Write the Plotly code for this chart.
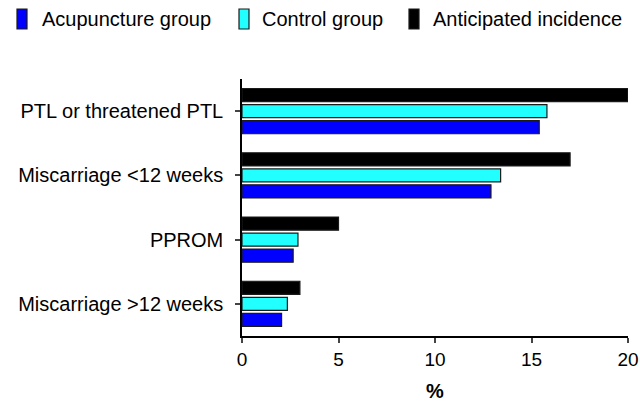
import plotly.graph_objects as go

categories = ["PTL or threatened PTL", "Miscarriage <12 weeks", "PPROM", "Miscarriage >12 weeks"]
acupuncture = [15.4, 12.9, 2.65, 2.05]
control = [15.8, 13.4, 2.9, 2.35]
anticipated = [20.0, 17.0, 5.0, 3.0]
series_names = ["Acupuncture group", "Control group", "Anticipated incidence"]
series_colors = ["#0000ff", "#22ffff", "#000000"]
x_ticks = [0, 5, 10, 15, 20]

font = "Liberation Sans, Arial, sans-serif"
line = dict(color="#1a1a1a", width=1.2)

W, H = 640, 402
L, R, T, B = 242, 12, 79, 66
PW, PH = W - L - R, H - T - B


def px(fx):
    return (fx - L) / PW


def py(fy):
    return (H - B - fy) / PH


fig = go.Figure()
for name, vals, col in zip(series_names, [acupuncture, control, anticipated], series_colors):
    fig.add_trace(go.Bar(y=categories, x=vals, orientation="h", name=name,
                         marker=dict(color=col, line=line), showlegend=False))

# manual legend (tall boxes + labels)
box_x = [17, 239, 409]
text_x = [40, 260, 431]
shapes, annotations = [], []
for bx, tx, name, col in zip(box_x, text_x, series_names, series_colors):
    shapes.append(dict(type="rect", xref="paper", yref="paper",
                       x0=px(bx), x1=px(bx + 10), y0=py(29), y1=py(9),
                       fillcolor=col, line=dict(color="#1a1a1a", width=1.2)))
    annotations.append(dict(xref="paper", yref="paper", x=px(tx), y=py(19),
                            xanchor="left", yanchor="middle", text=name, showarrow=False,
                            font=dict(size=20, family=font, color="black")))

fig.update_layout(
    width=W, height=H,
    margin=dict(l=L, r=R, t=T, b=B, autoexpand=False),
    paper_bgcolor="white", plot_bgcolor="white",
    barmode="group", bargap=0.25, bargroupgap=0.18,
    font=dict(family=font, size=20, color="black"),
    showlegend=False,
    shapes=shapes, annotations=annotations,
    xaxis=dict(range=[0, 20], tickvals=x_ticks, ticks="outside", ticklen=5, tickwidth=1.5,
               showline=True, linecolor="black", linewidth=1.5, showgrid=False, zeroline=False,
               title=dict(text="<b>%</b>", font=dict(size=20), standoff=17),
               tickfont=dict(size=19), ticklabeloverflow="allow"),
    yaxis=dict(categoryorder="array", categoryarray=categories[::-1], range=[-0.5, 3.5],
               ticks="outside", ticklen=5, tickwidth=1.5, showline=True, linecolor="black",
               linewidth=1.5, showgrid=False, zeroline=False, tickfont=dict(size=20),
               ticklabelstandoff=8),
)

fig.write_html("out.html", config={"displayModeBar": False},
               post_script="document.body.style.margin='0';document.body.style.overflow='hidden';")
